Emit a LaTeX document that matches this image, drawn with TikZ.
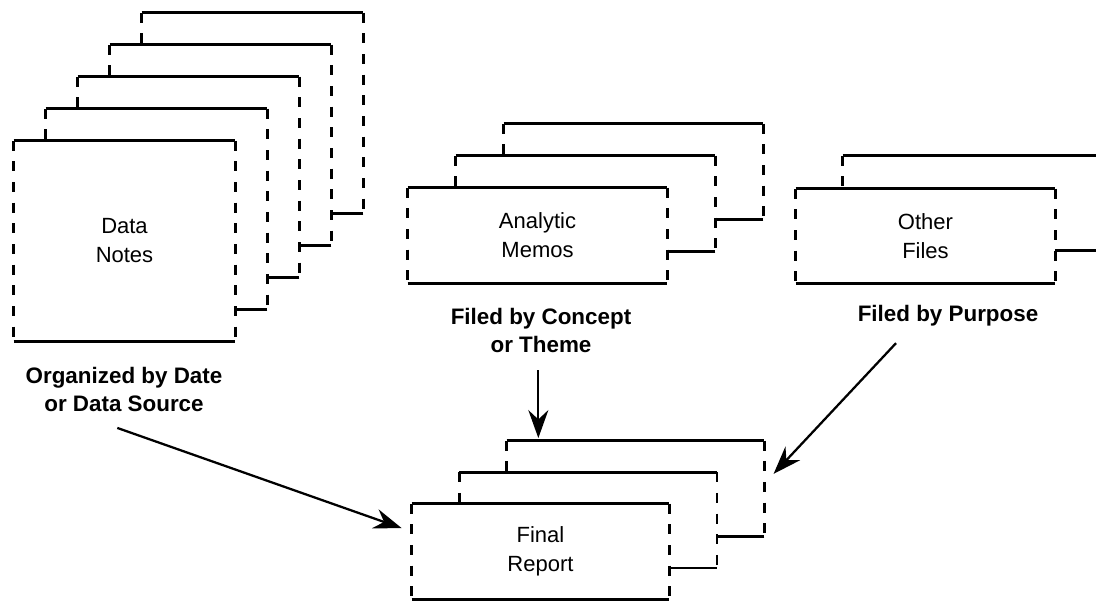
\documentclass[tikz,border=0pt]{standalone}
\usepackage{fontspec}
\setmainfont{Liberation Sans}
\usetikzlibrary{arrows.meta}
\tikzset{
	card/.style={
		rectangle,
		draw=none,
		inner sep=0pt,
		align=center,
		font=\fontsize{16.5}{21.75}\selectfont
	},
	rim/.style={line width=1.9pt},
	side/.style={line width=1.9pt, dash pattern=on 7.5pt off 8pt},
	tag/.style={align=center, font=\bfseries\fontsize{16.8}{21}\selectfont},
	link/.style={line width=1.7pt, -{Stealth[length=21pt,width=15pt,inset=7pt]}}
}
\newcommand\drawstack[2]{%
	\draw[rim] (#11.north west) -- (#11.north east) (#11.south west) -- (#11.south east);
	\draw[side] (#11.north west) -- (#11.south west) (#11.north east) -- (#11.south east);
	\foreach \i [remember=\i as \j (initially 1)] in {2,...,#2} {
		\draw[rim] (#1\i.north west) -- (#1\i.north east) (#1\i.south east) -- (#1\i.south east -| #1\j.east);
		\draw[side] (#1\i.north west) -- (#1\i.north west |- #1\j.north) (#1\i.north east) -- (#1\i.south east);
	}
}

\begin{document}
\begin{tikzpicture}[x=0.75pt, y=-0.75pt]
\useasboundingbox (0,0) rectangle (1096,600);

\foreach \i in {1,...,5}
	\node[card, minimum width=165.75pt, minimum height=150pt] (note\i) at ({124.5+32*(\i-1)}, {241-32*(\i-1)}) {\ifnum\i=1 Data\\Notes\fi};
\drawstack{note}{5}

\foreach \i in {1,...,3}
	\node[card, minimum width=194.25pt, minimum height=71.25pt] (memo\i) at ({537.5+48*(\i-1)}, {235.5-32*(\i-1)}) {\ifnum\i=1 Analytic\\Memos\fi};
\drawstack{memo}{3}

\foreach \i in {1,2}
	\node[card, minimum width=194.25pt, minimum height=70.5pt] (other\i) at ({925.5+47*(\i-1)}, {236-33*(\i-1)}) {\ifnum\i=1 Other\\Files\fi};
\drawstack{other}{2}

\foreach \i in {1,...,3}
	\node[card, minimum width=192.75pt, minimum height=71.25pt] (final\i) at ({540.5+47.5*(\i-1)}, {551.5-31.5*(\i-1)}) {\ifnum\i=1 Final\\Report\fi};
\drawstack{final}{3}

\node[tag] (notetag) at (124,389) {Organized by Date\\or Data Source};
\node[tag] (memotag) at (541,330) {Filed by Concept\\or Theme};
\node[tag] (othertag) at (948,316) {Filed by Purpose};

\draw[link] ([xshift=-5pt,yshift=-9pt]notetag.south) -- ([xshift=-7.5pt,yshift=17.5pt]final1.west);
\draw[link] ([xshift=-2pt,yshift=-10pt]memotag.south) -- ([xshift=-2pt,yshift=2pt]memotag.south |- final3.north);
\draw[link] ([xshift=-39pt,yshift=-9pt]othertag.south) -- ([xshift=7pt,yshift=11pt]final3.east);
\end{tikzpicture}
\end{document}
